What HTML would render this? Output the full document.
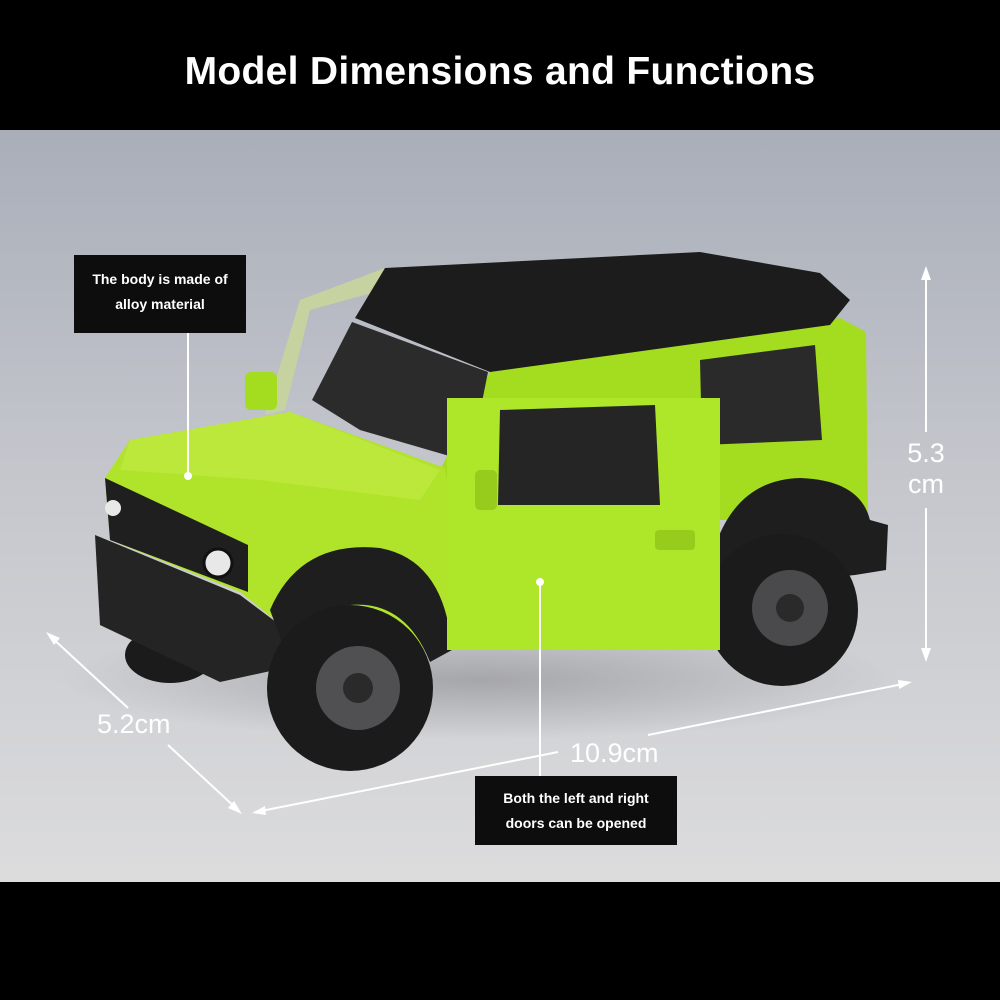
<!DOCTYPE html>
<html><head><meta charset="utf-8"><style>
html,body{margin:0;padding:0;background:#000}
#w{position:relative;width:1000px;height:1000px;overflow:hidden;background:#000;font-family:"Liberation Sans",sans-serif}
h1{position:absolute;top:50px;left:0;width:1000px;margin:0;text-align:center;color:#fff;font-size:39px;font-weight:bold;letter-spacing:0.3px}
svg{position:absolute;left:0;top:0}
.box{position:absolute;background:#0d0d0d;color:#fff;font-weight:bold;font-size:14px;line-height:25px;text-align:center}
.dim{position:absolute;color:#fff;font-size:27px}
</style></head><body><div id="w">
<h1>Model Dimensions and Functions</h1>
<svg width="1000" height="1000" viewBox="0 0 1000 1000">
<defs>
<linearGradient id="bg" x1="0" y1="0" x2="0" y2="1">
<stop offset="0" stop-color="#a9aeb9"/><stop offset="0.45" stop-color="#c4c6cc"/><stop offset="1" stop-color="#dcdcdd"/></linearGradient>
<radialGradient id="sh" cx="0.5" cy="0.5" r="0.5"><stop offset="0" stop-color="#8a8a8e" stop-opacity="0.6"/><stop offset="1" stop-color="#8a8a8e" stop-opacity="0"/></radialGradient>
</defs>
<rect x="0" y="130" width="1000" height="752" fill="url(#bg)"/>
<ellipse cx="480" cy="680" rx="420" ry="60" fill="url(#sh)"/>
<polygon points="440,470 490,372 840,318 866,332 868,520 720,520 700,625 450,650" fill="#a4dc1f"/>
<polygon points="700,360 815,345 822,440 702,445" fill="#2a2a2a"/>
<path d="M705,590 Q720,480 800,478 Q860,480 870,520 L888,525 L886,570 L855,575 Z" fill="#1e1e1e"/>
<circle cx="782" cy="610" r="76" fill="#1b1b1b"/>
<circle cx="790" cy="608" r="38" fill="#4a4a4c"/>
<circle cx="790" cy="608" r="14" fill="#2a2a2a"/>
<ellipse cx="170" cy="655" rx="45" ry="28" fill="#1b1b1b"/>
<polygon points="105,478 130,440 290,412 445,468 450,505 446,648 300,640 240,592 110,540" fill="#b0e42a"/>
<polygon points="130,440 290,412 440,470 420,500 260,480 120,470" fill="#bbe83a"/>
<polygon points="312,400 352,322 488,372 470,462 360,430" fill="#2b2b2b"/>
<polygon points="265,415 300,300 385,268 382,290 310,310 285,410" fill="#c6d3a0"/>
<rect x="245" y="372" width="32" height="38" rx="6" fill="#a4dc1f"/>
<polygon points="355,318 385,268 700,252 820,273 850,300 830,325 490,372" fill="#1c1c1c"/>
<polygon points="105,478 248,545 248,592 110,540" fill="#1f1f1f"/>
<circle cx="218" cy="563" r="14" fill="#e8e8e8" stroke="#111" stroke-width="3"/>
<circle cx="113" cy="508" r="8" fill="#e8e8e8"/>
<polygon points="95,535 240,595 300,640 298,665 220,682 100,625" fill="#242424"/>
<path d="M270,610 Q300,540 380,548 Q445,560 452,650 L430,662 Q405,600 350,605 Q300,612 285,650 Z" fill="#1e1e1e"/>
<rect x="447" y="398" width="273" height="252" fill="#aee62a"/>
<polygon points="500,410 655,405 660,505 498,505" fill="#252525"/>
<rect x="655" y="530" width="40" height="20" rx="4" fill="#98cc1c"/>
<rect x="475" y="470" width="22" height="40" rx="5" fill="#98cc1c"/>
<circle cx="350" cy="688" r="83" fill="#1b1b1b"/>
<circle cx="358" cy="688" r="42" fill="#505053"/>
<circle cx="358" cy="688" r="15" fill="#2a2a2a"/>
<g stroke="#fff" stroke-width="2" fill="#fff">
<line x1="926" y1="272" x2="926" y2="432"/>
<line x1="926" y1="508" x2="926" y2="656"/>
<line x1="50" y1="636" x2="128" y2="708"/>
<line x1="168" y1="745" x2="238" y2="810"/>
<line x1="256" y1="812" x2="558" y2="752"/>
<line x1="648" y1="735" x2="908" y2="683"/>
<line x1="188" y1="333" x2="188" y2="476"/>
<line x1="540" y1="582" x2="540" y2="776"/>
</g>
<g fill="#fff">
<polygon points="926,266 921,280 931,280"/>
<polygon points="926,662 921,648 931,648"/>
<polygon points="46,632 60,638 54,645"/>
<polygon points="242,814 228,808 234,801"/>
<polygon points="252,813 265,806 266,815"/>
<polygon points="912,682 899,689 898,680"/>
<circle cx="188" cy="476" r="4"/>
<circle cx="540" cy="582" r="4"/>
</g>
</svg>
<div class="box" style="left:74px;top:255px;width:172px;height:78px;padding-top:12px;box-sizing:border-box">The body is made of<br>alloy material</div>
<div class="box" style="left:475px;top:776px;width:202px;height:69px;padding-top:10px;box-sizing:border-box">Both the left and right<br>doors can be opened</div>
<div class="dim" style="left:904px;top:438px;text-align:center;width:44px;line-height:31px">5.3<br>cm</div>
<div class="dim" style="left:97px;top:709px">5.2cm</div>
<div class="dim" style="left:570px;top:738px">10.9cm</div>
</div></body></html>
